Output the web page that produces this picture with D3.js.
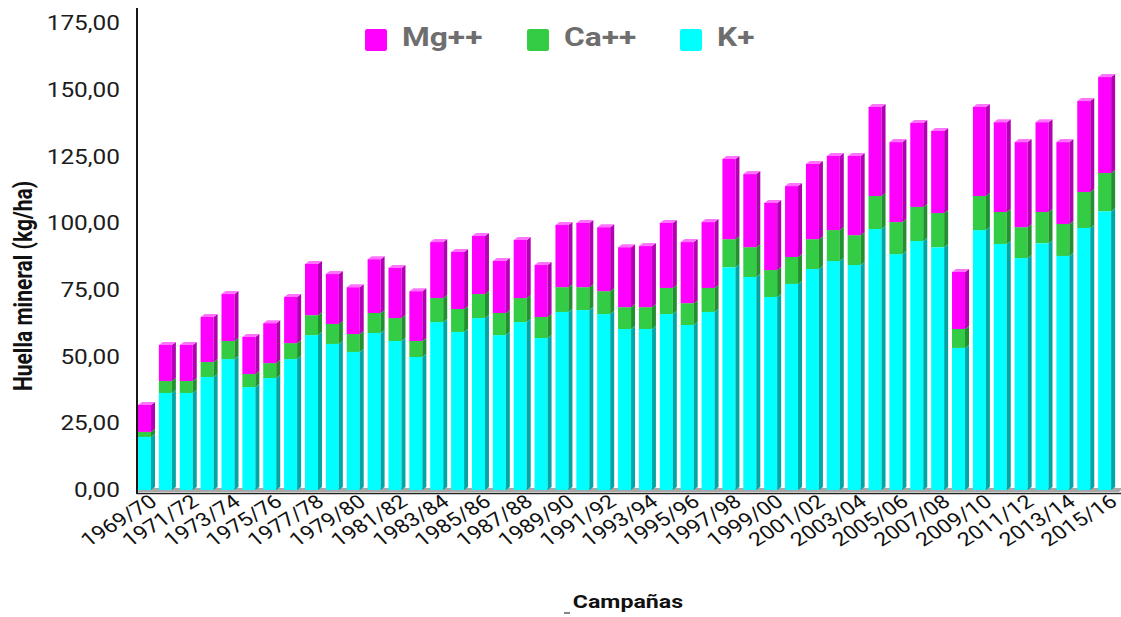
<!DOCTYPE html>
<html>
<head>
<meta charset="utf-8">
<script src="https://cdn.jsdelivr.net/npm/d3@7"></script>
<style>
  html, body { margin: 0; padding: 0; background: #fff; overflow: hidden; }
</style>
</head>
<body>
<div id="chart"></div>
<script>
// Campaigns (crop years)
const campaigns = [
  "1969/70","1970/71","1971/72","1972/73","1973/74","1974/75","1975/76","1976/77",
  "1977/78","1978/79","1979/80","1980/81","1981/82","1982/83","1983/84","1984/85",
  "1985/86","1986/87","1987/88","1988/89","1989/90","1990/91","1991/92","1992/93",
  "1993/94","1994/95","1995/96","1996/97","1997/98","1998/99","1999/00","2000/01",
  "2001/02","2002/03","2003/04","2004/05","2005/06","2006/07","2007/08","2008/09",
  "2009/10","2010/11","2011/12","2012/13","2013/14","2014/15","2015/16"
];

// Mineral footprint per series (kg/ha)
const potasio = [19.9,36.4,36.4,42.4,49.1,38.6,42.0,49.1,58.1,54.8,51.8,58.9,55.9,49.9,63.0,59.3,
  64.5,58.1,63.0,57.0,66.8,67.5,66.0,60.4,60.4,66.0,61.9,66.8,83.6,79.9,72.4,77.3,
  82.9,85.9,84.4,97.9,88.5,93.4,91.1,53.3,97.5,92.3,87.0,92.6,87.8,98.3,104.6];
const calcio = [1.9,4.5,4.5,5.6,6.8,4.9,5.6,6.0,7.5,7.5,6.7,7.5,8.6,6.0,9.0,8.6,
  9.0,8.3,9.0,7.9,9.3,8.6,8.6,8.2,8.2,9.8,8.2,9.0,10.5,11.2,10.1,10.1,
  11.2,11.6,11.2,12.4,12.0,12.8,12.8,7.1,12.8,12.0,11.6,11.7,12.0,13.5,14.3];
const magnesio = [10.1,13.5,13.5,16.9,17.6,13.9,15.0,17.3,19.2,18.7,17.6,20.2,18.8,18.7,21.0,21.4,
  21.8,19.5,21.8,19.5,23.3,24.1,24.0,22.5,22.9,24.4,22.9,24.7,30.1,27.4,25.2,26.6,
  28.2,27.8,29.7,33.4,30.0,31.5,30.8,21.4,33.4,33.7,31.9,33.7,30.7,34.1,36.0];

const seriesKeys = ["K", "Ca", "Mg"];
const legendItems = [
  { key: "Mg", label: "Mg++" },
  { key: "Ca", label: "Ca++" },
  { key: "K",  label: "K+" }
];
const yTicks = [0, 25, 50, 75, 100, 125, 150, 175];

const W = 1121, H = 617;
const SX = 1.22;                 // horizontal stretch of the whole drawing
const hx = v => v / SX;          // screen pixels -> view units (horizontal)

const svg = d3.select("#chart").append("svg")
  .attr("width", W).attr("height", H)
  .attr("viewBox", `0 0 ${W / SX} ${H}`)
  .attr("preserveAspectRatio", "none")
  .style("display", "block");

const rows = campaigns.map((c, i) => ({ campaign: c, K: potasio[i], Ca: calcio[i], Mg: magnesio[i] }));
const layers = d3.stack().keys(seriesKeys)(rows);

const x = d3.scaleBand().domain(campaigns).range([hx(136), hx(1117)]).padding(0);
const y = d3.scaleLinear().domain([0, 175]).range([490, 23.5]);

const palette = {
  K:  { front: "#00ffff", side: "#00a6a6", top: "#8effff" },
  Ca: { front: "#33cc44", side: "#22902e", top: "#72dd7a" },
  Mg: { front: "#ff00ff", side: "#b200b2", top: "#ff74ff" }
};

const FW = hx(13), OFF = hx(2), DX = hx(4), DY = 3;
const base = y(0);

// floor under the bars
svg.append("path")
  .attr("d", `M${hx(137)},${base + 2} L${hx(1119)},${base + 2} L${hx(1119) + DX},${base - 2} L${hx(137) + DX},${base - 2} Z`)
  .attr("fill", "#a8a8a8");

// stacked 3D bars
const layerG = svg.append("g").selectAll("g")
  .data(layers).join("g")
  .attr("data-series", d => d.key);

layerG.each(function(layer) {
  const col = palette[layer.key];
  const g = d3.select(this).selectAll("g").data(layer).join("g");
  g.each(function(d) {
    const bx = x(d.data.campaign) + OFF;
    const yt = y(d[1]), yb = y(d[0]);
    const s = d3.select(this);
    s.append("rect")
      .attr("x", bx).attr("y", yt)
      .attr("width", FW).attr("height", Math.max(0, yb - yt))
      .attr("fill", col.front);
    s.append("path")
      .attr("d", `M${bx + FW},${yt} L${bx + FW + DX},${yt - DY} L${bx + FW + DX},${yb - DY} L${bx + FW},${yb} Z`)
      .attr("fill", col.side);
    s.append("path")
      .attr("d", `M${bx},${yt} L${bx + DX},${yt - DY} L${bx + FW + DX},${yt - DY} L${bx + FW},${yt} Z`)
      .attr("fill", col.top);
  });
});

// axis lines
svg.append("line")
  .attr("x1", hx(137)).attr("x2", hx(137)).attr("y1", 8).attr("y2", 494)
  .attr("stroke", "#111").attr("stroke-width", 1.6);
svg.append("line")
  .attr("x1", hx(136.5)).attr("x2", hx(1121)).attr("y1", 493.5).attr("y2", 493.5)
  .attr("stroke", "#222").attr("stroke-width", 1.5);

// y axis
const fmt = d3.formatLocale({ decimal: ",", thousands: ".", grouping: [3], currency: ["", "€"] }).format(".2f");
svg.append("g")
  .attr("transform", `translate(${hx(137)},0)`)
  .call(d3.axisLeft(y).tickValues(yTicks).tickFormat(fmt).tickSize(0).tickPadding(hx(17)))
  .call(g => g.select(".domain").remove())
  .call(g => g.selectAll("text")
    .attr("font-family", "Roboto, 'Liberation Sans', sans-serif")
    .attr("font-size", 20)
    .attr("fill", "#1c1c1c"));

// x axis (every second campaign labelled)
svg.append("g")
  .attr("transform", `translate(0,${base})`)
  .call(d3.axisBottom(x).tickValues(campaigns.filter((d, i) => i % 2 === 0)).tickSize(0).tickPadding(0))
  .call(g => g.select(".domain").remove())
  .call(g => g.selectAll("text")
    .attr("y", 0).attr("dy", 0)
    .attr("transform", `translate(${hx(12)},14) rotate(-37)`)
    .attr("text-anchor", "end")
    .attr("font-family", "Roboto, 'Liberation Sans', sans-serif")
    .attr("font-size", 19)
    .attr("fill", "#111"));

// axis titles
svg.append("text")
  .attr("transform", `translate(${hx(23)},286) rotate(-90)`)
  .attr("text-anchor", "middle")
  .attr("dominant-baseline", "central")
  .attr("font-family", "Roboto, 'Liberation Sans', sans-serif")
  .attr("font-weight", "bold")
  .attr("font-size", 21)
  .attr("fill", "#111")
  .text("Huella mineral (kg/ha)");

svg.append("text")
  .attr("x", hx(628)).attr("y", 608)
  .attr("text-anchor", "middle")
  .attr("font-family", "Roboto, 'Liberation Sans', sans-serif")
  .attr("font-weight", "bold")
  .attr("font-size", 19)
  .attr("fill", "#111")
  .text("Campañas");
svg.append("line")
  .attr("x1", hx(564)).attr("x2", hx(570)).attr("y1", 613).attr("y2", 613)
  .attr("stroke", "#333").attr("stroke-width", 1.2);

// legend
const legendX = { Mg: 365, Ca: 527, K: 680 };
const lg = svg.append("g").selectAll("g").data(legendItems).join("g");
lg.append("rect")
  .attr("x", d => hx(legendX[d.key])).attr("y", 29)
  .attr("width", hx(22)).attr("height", 22)
  .attr("rx", 2).attr("ry", 2)
  .attr("fill", d => palette[d.key].front);
lg.append("text")
  .attr("x", d => hx(legendX[d.key] + 37)).attr("y", 46)
  .attr("font-family", "Roboto, 'Liberation Sans', sans-serif")
  .attr("font-weight", "bold")
  .attr("font-size", 26)
  .attr("fill", "#6e6e6e")
  .text(d => d.label);
</script>
</body>
</html>
